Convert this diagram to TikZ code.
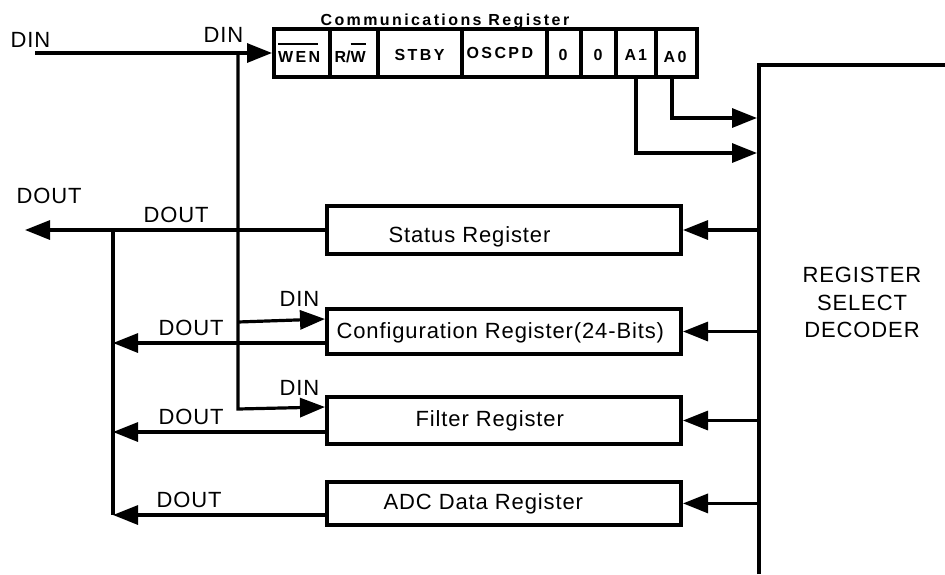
\documentclass[tikz,border=0pt]{standalone}
\usepackage{fontspec}
\setmainfont{Liberation Sans}
\newfontfamily\lblfont{Liberation Sans}[LetterSpace=4]
\newfontfamily\cellfont{Liberation Sans}[LetterSpace=15]
\usetikzlibrary{arrows.meta}
\newsavebox{\ovb}
\newcommand\ovbar[2][0pt]{\sbox\ovb{#2}\rlap{\rule[\dimexpr\ht\ovb+6.5pt\relax]{\dimexpr\wd\ovb-#1\relax}{2.6pt}}\usebox\ovb}
\begin{document}
\begin{tikzpicture}[x=1pt,y=-1pt,line width=3.2pt,
  arr/.style={-{Triangle[length=25pt,width=19pt]}},
  regbox/.style={draw,line width=4pt,inner sep=0,minimum width=354pt,minimum height=#1},
  cell/.style={draw,line width=4pt,inner sep=0,minimum height=48pt,minimum width=#1},
  lbl/.style={inner sep=0,anchor=base west,font=\lblfont\fontsize{22}{27.5}\selectfont},
  celltxt/.style={inner sep=0,anchor=base west,font=\cellfont\bfseries\fontsize{16}{19}\selectfont},
  titletxt/.style={inner sep=0,anchor=base west,font=\cellfont\bfseries\fontsize{16}{19}\selectfont}]
\useasboundingbox (0,0) rectangle (945,574);

% communications register cells
\node[cell=55.5pt] (wen)   at (301.75,53) {};
\node[cell=48.5pt] (rw)    at (353.75,53) {};
\node[cell=84pt]   (stby)  at (420,53) {};
\node[cell=85pt]   (oscpd) at (504.5,53) {};
\node[cell=33.5pt] (za)    at (563.75,53) {};
\node[cell=35.5pt] (zb)    at (598.25,53) {};
\node[cell=40pt]   (a1)    at (636,53) {};
\node[cell=41pt]   (a0)    at (676.5,53) {};

\node[titletxt] (ctitle) at (319,25) {Communications Register};
\node[celltxt] (twen)   at (276.5,62.7) {\ovbar[2.4pt]{WEN}};
\node[celltxt] (trw)    at (333,62.7) {\bfseries\fontspec{Liberation Sans}\fontsize{16}{19}\selectfont R/\ovbar{W}};
\node[celltxt] (tstby)  at (393,60) {STBY};
\node[celltxt] (toscpd) at (465,58.3) {OSCPD};
\node[celltxt] (tza)    at (557,60) {0};
\node[celltxt] (tzb)    at (592,60) {0};
\node[celltxt] (ta1)    at (623,60) {A\kern2pt 1};
\node[celltxt] (ta0)    at (662,62) {A0};

% registers
\node[regbox=48pt] (status) at (504,230) {};
\node[regbox=45pt] (cfg)    at (504,331.5) {};
\node[regbox=47pt] (flt)    at (504,420.5) {};
\node[regbox=43.5pt] (adc)  at (504,503.4) {};
\node[lbl] (tstatus) at (387,242) {Status Register};
\node[lbl] (tcfg)    at (335,338) {Configuration Register(24-Bits)};
\node[lbl] (tflt)    at (414,426) {Filter Register};
\node[lbl] (tadc)    at (382,509) {ADC Data Register};

% labels
\node[lbl] (ldin1)  at (9,47)    {DIN};
\node[lbl] (ldin2)  at (202,42)  {DIN};
\node[lbl] (ldout0) at (15,203)  {DOUT};
\node[lbl] (ldout1) at (142,222) {DOUT};
\node[lbl] (ldin3)  at (278,306) {DIN};
\node[lbl] (ldout2) at (157,335) {DOUT};
\node[lbl] (ldin4)  at (278,395) {DIN};
\node[lbl] (ldout3) at (157,424) {DOUT};
\node[lbl] (ldout4) at (155,507) {DOUT};
\node[lbl,anchor=north,align=center] (dectxt) at (862,266) {REGISTER\\SELECT\\DECODER};

% coordinates
\coordinate (dinL) at (35,53);
\coordinate (jtop) at (238,53);
\coordinate (jcfg) at (238,322);
\coordinate (jbot) at (238,409);
\coordinate (decB) at (759,574);
\coordinate (decT) at (759,65);
\coordinate (decR) at (945,65);
\coordinate (decA0) at (757,118);
\coordinate (decA1) at (757,153);
\coordinate (doutEnd) at (25,230);
\coordinate (busT) at (113,228);
\coordinate (busB) at (113,515);
\coordinate (cfgin) at ([yshift=12.5pt]cfg.west);
\coordinate (fltin) at ([yshift=13.5pt]flt.west);
\coordinate (cfgout) at ([yshift=-11.5pt]cfg.west);
\coordinate (fltout) at ([yshift=-11.5pt]flt.west);
\coordinate (adcout) at ([yshift=-11.6pt]adc.west);

% DIN
\draw[arr] (dinL) -- (wen.west);
\draw[arr] (jtop) -- (jbot) -- (fltin);
\draw[arr] (jcfg) -- (cfgin);

% address bits to decoder
\draw[arr] (a1.south) |- (decA1);
\draw[arr] ([xshift=-4.5pt]a0.south) |- (decA0);

% decoder bus
\draw[line width=3.4pt] (decB) -- (decT) -- (decR);
\draw[arr] (status.east -| decB) -- (status.east);
\draw[arr] (cfg.east -| decB) -- (cfg.east);
\draw[arr] (flt.east -| decB) -- (flt.east);
\draw[arr] (adc.east -| decB) -- (adc.east);

% DOUT
\draw[arr] (status.west) -- (doutEnd);
\draw (busT) -- (busB);
\draw[arr] (cfgout) -- (cfgout -| busT);
\draw[arr] (fltout) -- (fltout -| busT);
\draw[arr] (adcout) -- (adcout -| busT);
\end{tikzpicture}
\end{document}
